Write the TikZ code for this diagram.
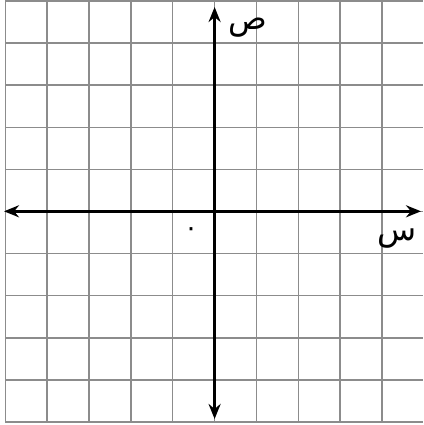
\documentclass[tikz,border=0pt]{standalone}
\usepackage{fontspec}
\newfontfamily\arabicfont[Script=Arabic]{DejaVu Sans}
\TeXXeTstate=1
\usetikzlibrary{arrows.meta}
\tikzset{
  gridline/.style={draw=black!45, line width=1.4pt},
  axisline/.style={draw=black, line width=2.8pt, {Stealth[length=15pt,width=12pt]}-{Stealth[length=15pt,width=12pt]}},
  axlabel/.style={font=\arabicfont\fontsize{32}{34}\selectfont, inner sep=0pt, anchor=base}
}
\begin{document}
\begin{tikzpicture}[x=1pt,y=-1pt]
\useasboundingbox (0,0) rectangle (423,425);
\fill[white] (0,0) rectangle (423,425);
% grid
\foreach \k in {0,...,9} {
  \draw[gridline] ({5.3+41.86*\k},1) -- ({5.3+41.86*\k},422);
}
\foreach \k in {0,...,10} {
  \draw[gridline] (5.3,{1+42.1*\k}) -- (423,{1+42.1*\k});
}
% axes
\coordinate (xl) at (4,211.3);
\coordinate (xr) at (421,211.3);
\coordinate (yt) at (214.6,7);
\coordinate (yb) at (214.6,419);
\draw[axisline] (xl) -- (xr);
\draw[axisline] (yb) -- (yt);
% labels
\node[axlabel] (ylab) at (248,30) {\beginR ص\endR};
\node[axlabel] (xlab) at (397,240) {\beginR س\endR};
\node[font=\arabicfont\fontsize{26}{28}\selectfont, inner sep=0pt] (o) at (191,232) {\beginR ٠\endR};
\end{tikzpicture}
\end{document}
